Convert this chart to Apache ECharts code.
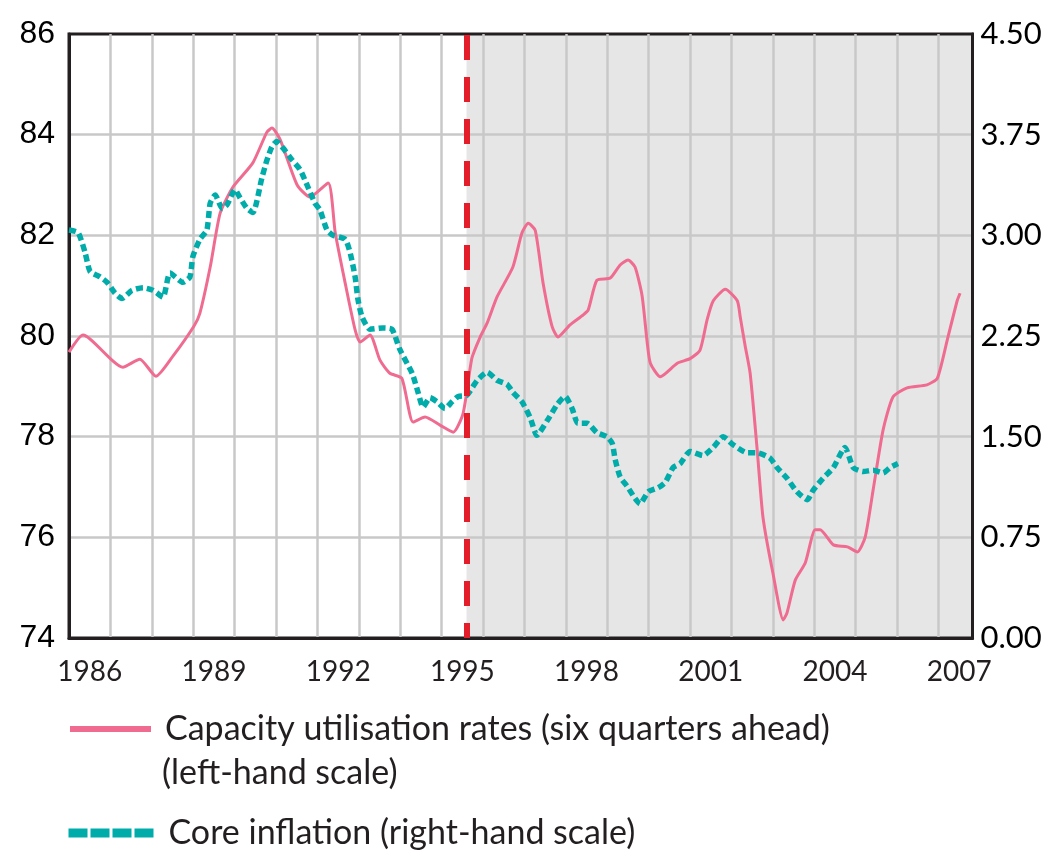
<!DOCTYPE html>
<html>
<head>
<meta charset="utf-8">
<script src="https://cdn.jsdelivr.net/npm/echarts@6/dist/echarts.min.js"></script>
<style>
  html, body { margin: 0; padding: 0; background: #fff; }
  #chart { width: 1048px; height: 850px; }
</style>
</head>
<body>
<div id="chart"></div>
<script>
// capacity utilisation, six quarters ahead (left-hand scale)
const capYears = [1986.0, 1986.34, 1987.3, 1987.71, 1988.1, 1988.51, 1989.02, 1989.16, 1989.41, 1989.65,
  1989.96, 1990.44, 1990.78, 1990.9, 1991.1, 1991.51, 1991.82, 1992.26, 1992.43, 1992.67,
  1992.91, 1993.03, 1993.27, 1993.51, 1993.75, 1994.04, 1994.31, 1994.6, 1994.96, 1995.28,
  1995.52, 1995.73, 1995.93, 1996.1, 1996.34, 1996.72, 1996.94, 1997.09, 1997.26, 1997.45,
  1997.67, 1997.81, 1998.1, 1998.42, 1998.54, 1998.75, 1999.07, 1999.31, 1999.5, 1999.67,
  1999.84, 1999.96, 2000.04, 2000.28, 2000.69, 2001.0, 2001.24, 2001.41, 2001.56, 2001.85,
  2002.14, 2002.21, 2002.33, 2002.45, 2002.62, 2002.76, 2003.0, 2003.25, 2003.34, 2003.54,
  2003.78, 2004.02, 2004.14, 2004.46, 2004.8, 2005.04, 2005.23, 2005.42, 2005.66, 2005.9,
  2006.24, 2006.72, 2006.97, 2007.21, 2007.45, 2007.52];
const capValues = [79.68, 80.02, 79.38, 79.54, 79.2, 79.6, 80.2, 80.45, 81.37, 82.44,
  82.96, 83.44, 84.05, 84.13, 83.9, 83.0, 82.76, 83.04, 82.05, 81.05,
  80.12, 79.88, 80.02, 79.52, 79.26, 79.16, 78.29, 78.39, 78.23, 78.09,
  78.47, 79.56, 79.98, 80.26, 80.78, 81.37, 82.05, 82.24, 82.1, 81.05,
  80.18, 79.98, 80.22, 80.42, 80.52, 81.11, 81.15, 81.41, 81.51, 81.37,
  80.8, 79.9, 79.46, 79.19, 79.46, 79.55, 79.72, 80.32, 80.7, 80.93,
  80.7, 80.38, 79.8, 79.26, 77.74, 76.4, 75.29, 74.36, 74.5, 75.15,
  75.49, 76.15, 76.15, 75.85, 75.81, 75.71, 76.01, 76.94, 78.13, 78.79,
  78.97, 79.03, 79.16, 79.92, 80.7, 80.85];

// core inflation (right-hand scale)
const infYears = [1986.0, 1986.22, 1986.39, 1986.51, 1986.75, 1986.92, 1987.11, 1987.28, 1987.52, 1987.79,
  1988.03, 1988.27, 1988.44, 1988.75, 1988.92, 1988.99, 1989.16, 1989.33, 1989.41, 1989.53,
  1989.7, 1989.82, 1990.01, 1990.13, 1990.3, 1990.44, 1990.66, 1990.78, 1990.9, 1991.02,
  1991.17, 1991.39, 1991.58, 1991.77, 1991.94, 1992.06, 1992.23, 1992.38, 1992.67, 1992.79,
  1992.91, 1992.98, 1993.08, 1993.27, 1993.58, 1993.8, 1993.99, 1994.29, 1994.43, 1994.55,
  1994.72, 1994.89, 1995.08, 1995.25, 1995.4, 1995.61, 1995.86, 1996.1, 1996.34, 1996.58,
  1996.72, 1996.94, 1997.14, 1997.3, 1997.55, 1997.79, 1997.98, 1998.15, 1998.29, 1998.51,
  1998.75, 1998.99, 1999.12, 1999.19, 1999.31, 1999.48, 1999.67, 1999.79, 1999.99, 2000.23,
  2000.4, 2000.59, 2000.76, 2001.0, 2001.31, 2001.56, 2001.8, 2002.04, 2002.38, 2002.62,
  2002.93, 2003.1, 2003.34, 2003.58, 2003.83, 2003.97, 2004.21, 2004.46, 2004.74, 2004.94,
  2005.18, 2005.42, 2005.66, 2005.83, 2006.02];
const infValues = [3.04, 3.02, 2.87, 2.73, 2.69, 2.65, 2.57, 2.53, 2.59, 2.61,
  2.59, 2.54, 2.72, 2.65, 2.69, 2.84, 2.97, 3.04, 3.24, 3.3,
  3.2, 3.23, 3.34, 3.28, 3.2, 3.17, 3.43, 3.56, 3.66, 3.7,
  3.65, 3.56, 3.49, 3.36, 3.24, 3.19, 3.04, 3.0, 2.97, 2.87,
  2.69, 2.52, 2.39, 2.3, 2.31, 2.3, 2.15, 1.97, 1.83, 1.72,
  1.79, 1.76, 1.71, 1.76, 1.8, 1.81, 1.92, 1.98, 1.92, 1.89,
  1.83, 1.76, 1.64, 1.51, 1.62, 1.74, 1.8, 1.71, 1.6, 1.6,
  1.53, 1.5, 1.45, 1.33, 1.2, 1.13, 1.04, 1.0, 1.09, 1.12,
  1.16, 1.27, 1.3, 1.39, 1.36, 1.42, 1.5, 1.44, 1.38, 1.38,
  1.34, 1.27, 1.19, 1.09, 1.03, 1.1, 1.19, 1.27, 1.42, 1.27,
  1.24, 1.25, 1.23, 1.27, 1.3];

const labelYears = [1986, 1989, 1992, 1995, 1998, 2001, 2004, 2007];
const forecastStart = 1995.6;
const xMin = 1986;
const xMax = 2007.82;

const capName = "Capacity utilisation rates (six quarters ahead)";
const infName = "Core inflation (right-hand scale)";

const pink = "#f06b90";
const teal = "#00aca9";
const gridGray = "#c8c8c8";
const ink = "#231f20";

const chart = echarts.init(document.getElementById("chart"));

// legend: text only beside a line sample, no marker dot
const legendBase = {
  left: 67,
  padding: 0,
  itemWidth: 81,
  itemHeight: 14,
  itemStyle: { opacity: 0 },
  textStyle: { fontFamily: "Lato", fontSize: 34, color: ink, padding: [0, 0, 0, 9] },
};

const option = {
  animation: false,
  grid: {
    left: 69,
    right: 75.5,
    top: 34,
    bottom: 212,
    show: true,
    borderColor: ink,
    borderWidth: 3,
  },
  xAxis: [
    {
      type: "value",
      min: xMin,
      max: xMax,
      interval: 1,
      axisLine: { show: false },
      axisTick: { show: false },
      axisLabel: { show: false },
      splitLine: {
        show: true,
        showMinLine: false,
        showMaxLine: false,
        lineStyle: { color: gridGray, width: 2.5 },
      },
    },
    {
      type: "value",
      min: xMin,
      max: xMax,
      position: "bottom",
      axisLine: { show: true, lineStyle: { color: ink, width: 3 } },
      axisTick: { show: false },
      splitLine: { show: false },
      axisLabel: {
        customValues: labelYears.map((y) => y + 0.5),
        formatter: (v) => String(Math.floor(v)),
        fontFamily: "Lato",
        fontSize: 28,
        color: ink,
        margin: 20,
      },
    },
  ],
  yAxis: [
    {
      type: "value",
      min: 74,
      max: 86,
      interval: 2,
      position: "left",
      axisLine: { show: true, lineStyle: { color: ink, width: 3 } },
      axisTick: { show: false },
      axisLabel: {
        fontFamily: "Liberation Sans",
        fontSize: 32,
        color: "#000",
        margin: 14,
        padding: [0, 0, 20, 0],
      },
      splitLine: {
        show: true,
        showMinLine: false,
        showMaxLine: false,
        lineStyle: { color: gridGray, width: 2.5 },
      },
    },
    {
      type: "value",
      min: 0,
      max: 4.5,
      interval: 0.75,
      position: "right",
      axisLine: { show: true, lineStyle: { color: ink, width: 3 } },
      axisTick: { show: false },
      axisLabel: {
        formatter: (v) => v.toFixed(2),
        fontFamily: "Lato",
        fontSize: 31,
        color: "#000",
        margin: 8,
        padding: [0, 0, 20, 0],
      },
      splitLine: { show: false },
    },
  ],
  legend: [
    Object.assign({}, legendBase, {
      data: [capName],
      top: 712,
      lineStyle: { width: 6 },
    }),
    Object.assign({}, legendBase, {
      data: [infName],
      left: 64,
      top: 816,
      itemWidth: 86,
      lineStyle: { width: 9, type: [19, 3] },
    }),
  ],
  graphic: [
    {
      type: "text",
      left: 162,
      top: 756,
      style: { text: "(left-hand scale)", font: "34px Lato", fill: ink },
    },
  ],
  series: [
    {
      name: "forecast",
      type: "line",
      xAxisIndex: 0,
      yAxisIndex: 0,
      data: [],
      markArea: {
        silent: true,
        z: -1,
        itemStyle: { color: "#e6e6e6" },
        data: [[{ xAxis: forecastStart }, { xAxis: xMax }]],
      },
      markLine: {
        silent: true,
        symbol: "none",
        label: { show: false },
        lineStyle: { color: "#e31d2a", width: 6, type: [25, 17], dashOffset: 10 },
        data: [{ xAxis: forecastStart }],
      },
    },
    {
      name: capName,
      type: "line",
      xAxisIndex: 0,
      yAxisIndex: 0,
      symbol: "none",
      smooth: 0.2,
      data: capYears.map((y, i) => [y, capValues[i]]),
      lineStyle: { color: pink, width: 3 },
      itemStyle: { color: pink },
    },
    {
      name: infName,
      type: "line",
      xAxisIndex: 0,
      yAxisIndex: 1,
      symbol: "none",
      smooth: 0.2,
      data: infYears.map((y, i) => [y, infValues[i]]),
      lineStyle: { color: teal, width: 5.5, type: [7, 4] },
      itemStyle: { color: teal },
    },
  ],
};

chart.setOption(option);
</script>
</body>
</html>
